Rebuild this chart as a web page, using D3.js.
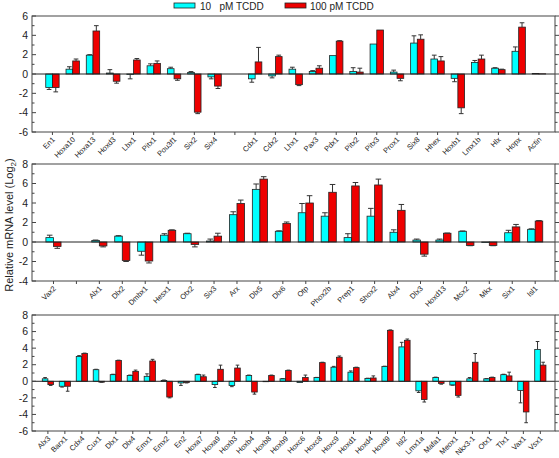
<!DOCTYPE html>
<html><head><meta charset="utf-8">
<script src="https://cdn.jsdelivr.net/npm/d3@7"></script>
<style>body{margin:0;background:#fff}svg{display:block;font-family:"Liberation Sans",Arial,sans-serif}</style>
</head><body><svg id="c" width="559" height="458"></svg>
<script>
// ---------- DATA ----------
const seriesNames = ["10   pM TCDD", "100 pM TCDD"];

const genes1 = ["En1","Hoxa10","Hoxa13","Hoxd3","Lbx1","Pitx1","Pou3f1","Six2","Six4","","Cdx1","Cdx2","Lhx1","Pax3","Pdx1","Pitx2","Pitx3","Prox1","Six8","Hhex","Hoxb1","Lmx1b","Hlx","Hopx","Actin"];
const low1  = [-1.4,0.5,1.95,0.1,-0.05,0.85,0.55,0.15,-0.3,null,-0.5,-0.2,0.5,0.25,1.9,0.25,3.1,0.2,3.2,1.55,-0.45,1.2,0.6,2.35,0.05];
const lowErr1 = [0.2,0.25,0.05,0.35,0.45,0.2,0.15,0.1,0.2,null,0.35,0.2,0.2,0.1,0,0.4,0,0.2,0.75,0.4,0.35,0.2,0.05,0.45,0];
const high1 = [-1.4,1.35,4.45,-0.75,1.45,1.1,-0.5,-3.95,-1.25,null,1.25,1.8,-1.1,0.6,3.4,0.2,4.55,-0.45,3.6,1.35,-3.5,1.55,0.45,4.85,0.02];
const highErr1 = [0.45,0.2,0.55,0.2,0.15,0.25,0.15,0.15,0.25,null,1.5,0.15,0.1,0.25,0.05,0.4,0,0.25,0.45,0.45,0.6,0.4,0.05,0.45,0];
const yTicks1 = [-6,-4,-2,0,2,4,6];

const genes2 = ["Vax2","","Alx1","Dlx2","Dmbx1","Hesx1","Otx2","Six3","Arx","Dlx5","Dlx6","Otp","Phox2b","Prep1","Shox2","Alx4","Dlx3","Hoxd13","Msx2","Mkx","Six1","Isl1"];
const low2  = [0.45,null,0.15,0.6,-0.95,0.7,0.85,0.1,2.8,5.4,1.1,3.0,2.65,0.45,2.65,1.0,0.2,0.2,1.1,-0.05,0.95,1.3];
const lowErr2 = [0.25,null,0.05,0.05,0.4,0.15,0.05,0.2,0.3,0.55,0.05,0.95,0.35,0.4,0.8,0.25,0.1,0.1,0.03,0,0.25,0.05];
const high2 = [-0.45,null,-0.4,-1.9,-1.95,1.2,-0.25,0.6,3.95,6.45,1.9,4.0,5.1,5.75,5.85,3.25,-1.25,0.9,-0.35,-0.35,1.55,2.15];
const highErr2 = [0.2,null,0.1,0.1,0.2,0.05,0.25,0.3,0.35,0.25,0.15,0.75,0.8,0.35,0.6,0.6,0.2,0.02,0.03,0.03,0.25,0.05];
const yTicks2 = [-4,-2,0,2,4,6,8];

const genes3 = ["Alx3","Barx1","Cdx4","Cux1","Dlx1","Dlx4","Emx1","Emx2","En2","Hoxa7","Hoxa9","Hoxb3","Hoxb4","Hoxb8","Hoxb9","Hoxc6","Hoxc8","Hoxc9","Hoxd1","Hoxd4","Hoxd9","Isl2","Lmx1a","Mafa1","Meox1","Nkx3-1","Otx1","Tlx1","Vax1","Vsx1"];
const low3  = [0.3,-0.6,3.0,1.4,0.8,0.7,0.6,0.1,-0.2,0.8,-0.4,-0.5,0.7,-0.05,0.3,-0.15,0.45,1.7,1.1,0.35,1.8,4.15,-1.15,0.45,-0.45,0.3,0.3,0.8,-1.1,3.85];
const lowErr3 = [0.15,0.1,0.1,0.05,0.05,0.05,0.3,0.05,0.3,0.05,0.35,0.15,0.05,0,0.02,0,0.02,0.1,0.15,0.02,0.02,0.55,0.2,0.05,0.02,0.15,0.02,0.05,1.5,0.95];
const high3 = [-0.4,-0.6,3.35,-0.1,2.5,1.2,2.45,-1.9,-0.15,0.55,1.45,1.6,-1.3,0.7,1.3,0.45,2.25,2.9,1.65,0.4,6.15,4.95,-2.2,-0.25,-1.7,2.3,0.45,0.65,-3.7,1.95];
const highErr3 = [0.1,0.6,0.05,0.02,0.05,0.15,0.2,0.1,0.05,0.2,0.5,0.35,0.25,0.05,0.05,0.3,0.05,0.15,0.05,0.25,0.05,0.15,0.3,0.1,0.2,1.05,0.05,0.45,1.3,0.35];
const yTicks3 = [-6,-4,-2,0,2,4,6,8];

// ---------- DRAW ----------
const svg = d3.select("#c");
const left = 32, right = 555;
const colors = ["#00ffff", "#ee0000"];

const panels = [
  {genes:genes1, low:low1, lowErr:lowErr1, high:high1, highErr:highErr1, ticks:yTicks1, top:16, bottom:132, align:0.56},
  {genes:genes2, low:low2, lowErr:lowErr2, high:high2, highErr:highErr2, ticks:yTicks2, top:164, bottom:281, align:0.52},
  {genes:genes3, low:low3, lowErr:lowErr3, high:high3, highErr:highErr3, ticks:yTicks3, top:315, bottom:431, align:0.52}
];

panels.forEach(p => {
  const g = svg.append("g");
  const idx = p.genes.map((d,i)=>i);
  const x = d3.scalePoint().domain(idx).range([left,right]).padding(0.9).align(p.align);
  const y = d3.scaleLinear().domain([d3.min(p.ticks), d3.max(p.ticks)]).range([p.bottom, p.top]);
  const bw = x.step()*0.33;

  // bars
  const series = [{v:p.low, e:p.lowErr, off:-bw, c:colors[0]}, {v:p.high, e:p.highErr, off:0, c:colors[1]}];
  series.forEach(s => {
    const data = idx.filter(i => s.v[i] !== null);
    g.selectAll(null).data(data).enter().append("rect")
      .attr("x", i => x(i)+s.off)
      .attr("width", bw)
      .attr("y", i => y(Math.max(0,s.v[i])))
      .attr("height", i => Math.abs(y(s.v[i])-y(0)))
      .attr("fill", s.c).attr("stroke","#222").attr("stroke-width",0.8);
    // error bars
    const eg = g.selectAll(null).data(data.filter(i=>s.e[i]>0)).enter().append("g");
    eg.append("line")
      .attr("x1", i => x(i)+s.off+bw/2).attr("x2", i => x(i)+s.off+bw/2)
      .attr("y1", i => y(s.v[i]))
      .attr("y2", i => y(s.v[i] + (s.v[i]<0?-1:1)*s.e[i]))
      .attr("stroke","#333").attr("stroke-width",1);
    eg.append("line")
      .attr("x1", i => x(i)+s.off+1).attr("x2", i => x(i)+s.off+bw-1)
      .attr("y1", i => y(s.v[i] + (s.v[i]<0?-1:1)*s.e[i]))
      .attr("y2", i => y(s.v[i] + (s.v[i]<0?-1:1)*s.e[i]))
      .attr("stroke","#333").attr("stroke-width",1);
  });

  // zero line
  g.append("line").attr("x1",left).attr("x2",right).attr("y1",y(0)).attr("y2",y(0))
    .attr("stroke","#222").attr("stroke-width",1);

  // frame
  g.append("rect").attr("x",left).attr("y",p.top).attr("width",right-left).attr("height",p.bottom-p.top)
    .attr("fill","none").attr("stroke","#444").attr("stroke-width",1);

  // left axis (ticks inward)
  const yMin = d3.min(p.ticks), yMax = d3.max(p.ticks);
  const minor = d3.range(yMin, yMax+1, 1);
  minor.forEach(v => {
    const major = p.ticks.includes(v);
    const len = major ? 4 : 2.5;
    g.append("line").attr("x1",left).attr("x2",left+len).attr("y1",y(v)).attr("y2",y(v)).attr("stroke","#444");
    g.append("line").attr("x1",right).attr("x2",right+len).attr("y1",y(v)).attr("y2",y(v)).attr("stroke","#444");
  });
  g.selectAll(null).data(p.ticks).enter().append("text")
    .attr("x", left-4).attr("y", d=>y(d)).attr("dy","0.35em")
    .attr("text-anchor","end").attr("font-size",10.5).attr("fill","#222")
    .text(d=>d);

  // bottom ticks and labels
  idx.forEach(i => {
    g.append("line").attr("x1",x(i)).attr("x2",x(i)).attr("y1",p.bottom).attr("y2",p.bottom+3).attr("stroke","#444");
  });
  g.selectAll(null).data(idx.filter(i=>p.genes[i]!=="")).enter().append("text")
    .attr("transform", i => `translate(${x(i)+3},${p.bottom+8}) rotate(-45)`)
    .attr("text-anchor","end").attr("font-size",7.5).attr("fill","#222")
    .text(i=>p.genes[i]);
});

// legend
const leg = svg.append("g").attr("font-size",10).attr("fill","#222");
[[174,200],[285,310]].forEach((pos,k) => {
  leg.append("rect").attr("x",pos[0]).attr("y",3).attr("width",21).attr("height",5)
    .attr("fill",colors[k]).attr("stroke","#222").attr("stroke-width",0.8);
  leg.append("text").attr("x",pos[1]).attr("y",9.5).attr("xml:space","preserve").text(seriesNames[k]);
});

// y title
const yt = svg.append("text").attr("transform","translate(13,225) rotate(-90)")
  .attr("text-anchor","middle").attr("font-size",11).attr("fill","#222");
yt.append("tspan").text("Relative mRNA level (Log");
yt.append("tspan").attr("font-size",8).attr("dy",3).text("2");
yt.append("tspan").attr("dy",-3).text(")");
</script></body></html>
